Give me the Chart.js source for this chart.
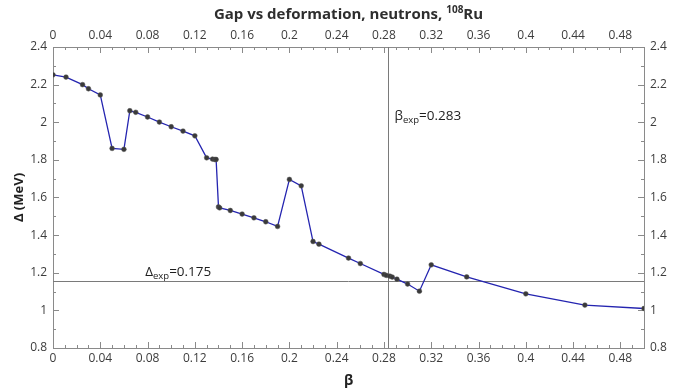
<!DOCTYPE html>
<html>
<head>
<meta charset="utf-8">
<script src="https://cdn.jsdelivr.net/npm/chart.js@4/dist/chart.umd.min.js"></script>
<style>
  html, body { margin: 0; padding: 0; background: #fff; }
  #wrap { width: 681px; height: 389px; }
</style>
</head>
<body>
<div id="wrap"><canvas id="c" width="681" height="389"></canvas></div>
<script>
// Quadrupole deformation beta and neutron pairing gap (MeV)
const beta = [0, 0.011, 0.025, 0.03, 0.04, 0.05, 0.06, 0.065, 0.07, 0.08, 0.09, 0.1, 0.11, 0.12,
  0.13, 0.135, 0.137, 0.138, 0.14, 0.141, 0.15, 0.16, 0.17, 0.18, 0.19, 0.2, 0.21, 0.22, 0.225,
  0.25, 0.26, 0.28, 0.282, 0.285, 0.287, 0.291, 0.3, 0.31, 0.32, 0.35, 0.4, 0.45, 0.5];
const gap = [2.252, 2.24, 2.2, 2.178, 2.145, 1.861, 1.856, 2.061, 2.053, 2.028, 2.001, 1.976, 1.953, 1.928,
  1.811, 1.804, 1.802, 1.802, 1.55, 1.545, 1.531, 1.512, 1.492, 1.471, 1.446, 1.696, 1.662, 1.366, 1.352,
  1.278, 1.249, 1.191, 1.186, 1.182, 1.177, 1.166, 1.14, 1.102, 1.242, 1.178, 1.088, 1.028, 1.010];

// Experimental reference values
const betaExp = 0.283;
const gapLine = 1.154;
const betaExpText = '0.283';
const gapExpText = '0.175';

// Tick labels
const xTicks = [0, 0.04, 0.08, 0.12, 0.16, 0.2, 0.24, 0.28, 0.32, 0.36, 0.4, 0.44, 0.48];
const yTicks = [0.8, 1, 1.2, 1.4, 1.6, 1.8, 2, 2.2, 2.4];

const FONT = '"Open Sans", "Noto Sans", sans-serif';
const AXIS_COLOR = '#8a8a8a';
const LABEL_COLOR = '#3c3c3c';

const fmt = v => String(parseFloat(Number(v).toFixed(2)));

function xAxis(pos, size, withTitle) {
  return {
    type: 'linear', position: pos, min: 0, max: 0.5,
    afterBuildTicks: s => { s.ticks = xTicks.map(v => ({ value: v })); },
    afterFit: s => { s.height = size; },
    ticks: { callback: fmt, color: LABEL_COLOR, font: { family: FONT, size: 12 },
             padding: pos === 'bottom' ? 3 : 4, maxRotation: 0, autoSkip: false },
    grid: { drawOnChartArea: false, drawTicks: false },
    border: { display: true, color: AXIS_COLOR, width: 1 },
    title: withTitle ? { display: true, text: 'β', color: '#222',
             font: { family: FONT, size: 14, weight: 'bold' }, padding: { top: 0, bottom: 0 } }
           : { display: false }
  };
}
function yAxis(pos, size, withTitle) {
  return {
    type: 'linear', position: pos, min: 0.8, max: 2.4,
    afterBuildTicks: s => { s.ticks = yTicks.map(v => ({ value: v })); },
    afterFit: s => { s.width = size; },
    ticks: { callback: fmt, color: LABEL_COLOR, font: { family: FONT, size: 12 }, padding: 6, autoSkip: false },
    grid: { drawOnChartArea: false, drawTicks: false },
    border: { display: true, color: AXIS_COLOR, width: 1 },
    title: withTitle ? { display: true, text: 'Δ (MeV)', color: '#222',
             font: { family: FONT, size: 13, weight: 'bold' }, padding: { top: 11, bottom: 0 } }
           : { display: false }
  };
}

// Inward major/minor ticks, reference lines, annotations and the title
const decor = {
  id: 'decor',
  beforeDatasetsDraw(chart) {
    const { ctx, chartArea: a, scales } = chart;
    const xs = scales.x, ys = scales.y;
    ctx.save();
    ctx.strokeStyle = AXIS_COLOR;
    ctx.lineWidth = 1;
    ctx.beginPath();
    for (let i = 0; i <= 50; i++) {
      const v = i / 100;
      const px = Math.round(xs.getPixelForValue(v)) + 0.5;
      const len = (i % 4 === 0) ? 6 : 3;
      ctx.moveTo(px, a.bottom); ctx.lineTo(px, a.bottom - len);
      ctx.moveTo(px, a.top); ctx.lineTo(px, a.top + len);
    }
    for (let i = 8; i <= 24; i++) {
      const v = i / 10;
      const py = Math.round(ys.getPixelForValue(v)) + 0.5;
      const len = (i % 2 === 0) ? 6 : 3;
      ctx.moveTo(a.left, py); ctx.lineTo(a.left + len, py);
      ctx.moveTo(a.right, py); ctx.lineTo(a.right - len, py);
    }
    ctx.stroke();

    // reference lines
    ctx.strokeStyle = '#7a7a7a';
    ctx.beginPath();
    const vx = Math.round(xs.getPixelForValue(betaExp)) + 0.5;
    ctx.moveTo(vx, a.top); ctx.lineTo(vx, a.bottom);
    const hy = Math.round(ys.getPixelForValue(gapLine)) + 0.5;
    ctx.moveTo(a.left, hy); ctx.lineTo(a.right, hy);
    ctx.stroke();

    // annotations with subscripts
    const sub = (x, y, main, subTxt, rest) => {
      ctx.fillStyle = '#1e1e1e';
      ctx.textBaseline = 'alphabetic';
      ctx.textAlign = 'left';
      ctx.font = '13.5px ' + FONT;
      ctx.fillText(main, x, y);
      let w = ctx.measureText(main).width;
      ctx.font = '9.5px ' + FONT;
      ctx.fillText(subTxt, x + w, y + 3);
      w += ctx.measureText(subTxt).width;
      ctx.font = '13.5px ' + FONT;
      ctx.fillText(rest, x + w, y);
    };
    sub(vx + 6, ys.getPixelForValue(2.04) + 5, 'β', 'exp', '=' + betaExpText);
    sub(xs.getPixelForValue(0.078), hy - 6, 'Δ', 'exp', '=' + gapExpText);

    // title
    ctx.fillStyle = '#2e2e2e';
    ctx.textBaseline = 'alphabetic';
    const t1 = 'Gap vs deformation, neutrons, ', t2 = '108', t3 = 'Ru';
    const big = 'bold 15px ' + FONT, small = 'bold 10px ' + FONT;
    ctx.font = big; const w1 = ctx.measureText(t1).width, w3 = ctx.measureText(t3).width;
    ctx.font = small; const w2 = ctx.measureText(t2).width;
    let tx = (a.left + a.right) / 2 - (w1 + w2 + w3) / 2;
    const ty = 19;
    ctx.textAlign = 'left';
    ctx.font = big; ctx.fillText(t1, tx, ty); tx += w1;
    ctx.font = small; ctx.fillText(t2, tx, ty - 6); tx += w2;
    ctx.font = big; ctx.fillText(t3, tx, ty);
    ctx.restore();
  }
};

new Chart(document.getElementById('c'), {
  type: 'scatter',
  data: {
    datasets: [{
      data: beta.map((b, i) => ({ x: b, y: gap[i] })),
      showLine: true,
      borderColor: '#2424b0',
      borderWidth: 1.3,
      pointRadius: 2.4,
      pointBackgroundColor: '#3a3a3a',
      pointBorderColor: '#555',
      pointBorderWidth: 0.5,
      tension: 0
    }]
  },
  options: {
    responsive: false,
    animation: false,
    layout: { padding: 0 },
    plugins: { legend: { display: false }, tooltip: { enabled: false }, title: { display: false } },
    scales: {
      x: xAxis('bottom', 41, true),
      x2: xAxis('top', 47, false),
      y: yAxis('left', 53, true),
      y2: yAxis('right', 37, false)
    }
  },
  plugins: [decor]
});
</script>
</body>
</html>
